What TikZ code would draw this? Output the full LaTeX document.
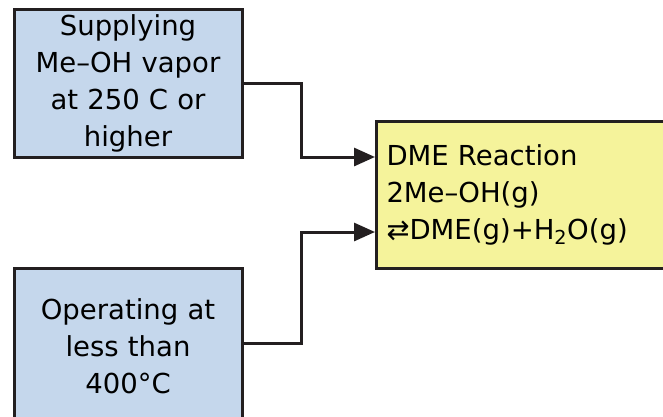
\documentclass[tikz,border=0pt]{standalone}
\usepackage{fontspec}
\setmainfont{DejaVu Sans}
\usetikzlibrary{arrows.meta,positioning,calc}
\definecolor{condblue}{RGB}{197,215,236}
\definecolor{reacyellow}{RGB}{245,243,155}
\definecolor{edgegray}{RGB}{35,31,32}

\tikzset{
  cond/.style={draw=edgegray, line width=3pt, fill=condblue, minimum width=228pt,
    text width=210pt, align=center, inner sep=0pt},
  reac/.style={draw=edgegray, line width=3pt, fill=reacyellow, minimum width=300pt,
    minimum height=147pt, text width=280pt, align=left, inner sep=10pt, anchor=west},
  flow/.style={draw=edgegray, line width=3pt, -{Triangle[length=21pt,width=18pt]}}
}

\begin{document}
\begin{tikzpicture}[x=1pt,y=-1pt,font=\fontsize{27.5}{37}\selectfont]
            \useasboundingbox (0,0) rectangle (663,416);
            \clip (0,0) rectangle (663,416);

            % Condition boxes
            \node[cond, minimum height=148pt] (supply) at (128,83)
                {\raisebox{-3pt}{\parbox{210pt}{\centering Supplying\\Me–OH vapor\\at 250 C or\\higher}}};
            \node[cond, minimum height=156pt] (operate) at (128,346)
                {\raisebox{4pt}{\parbox{210pt}{\centering Operating at\\less than\\400°C}}};

            % Reaction box
            \node[reac] (dme) at (375,194.5)
                {DME Reaction\\2Me–OH(g)\\⇄DME(g)+H\textsubscript{2}O(g)};

            % Connectors
            \draw[flow] (supply.east) -- ++(58,0) |- ([yshift=37.5pt]dme.west);
            \draw[flow] ([yshift=3pt]operate.east) -- ++(58,0) |- ([yshift=-37.5pt]dme.west);
        \end{tikzpicture}
\end{document}
